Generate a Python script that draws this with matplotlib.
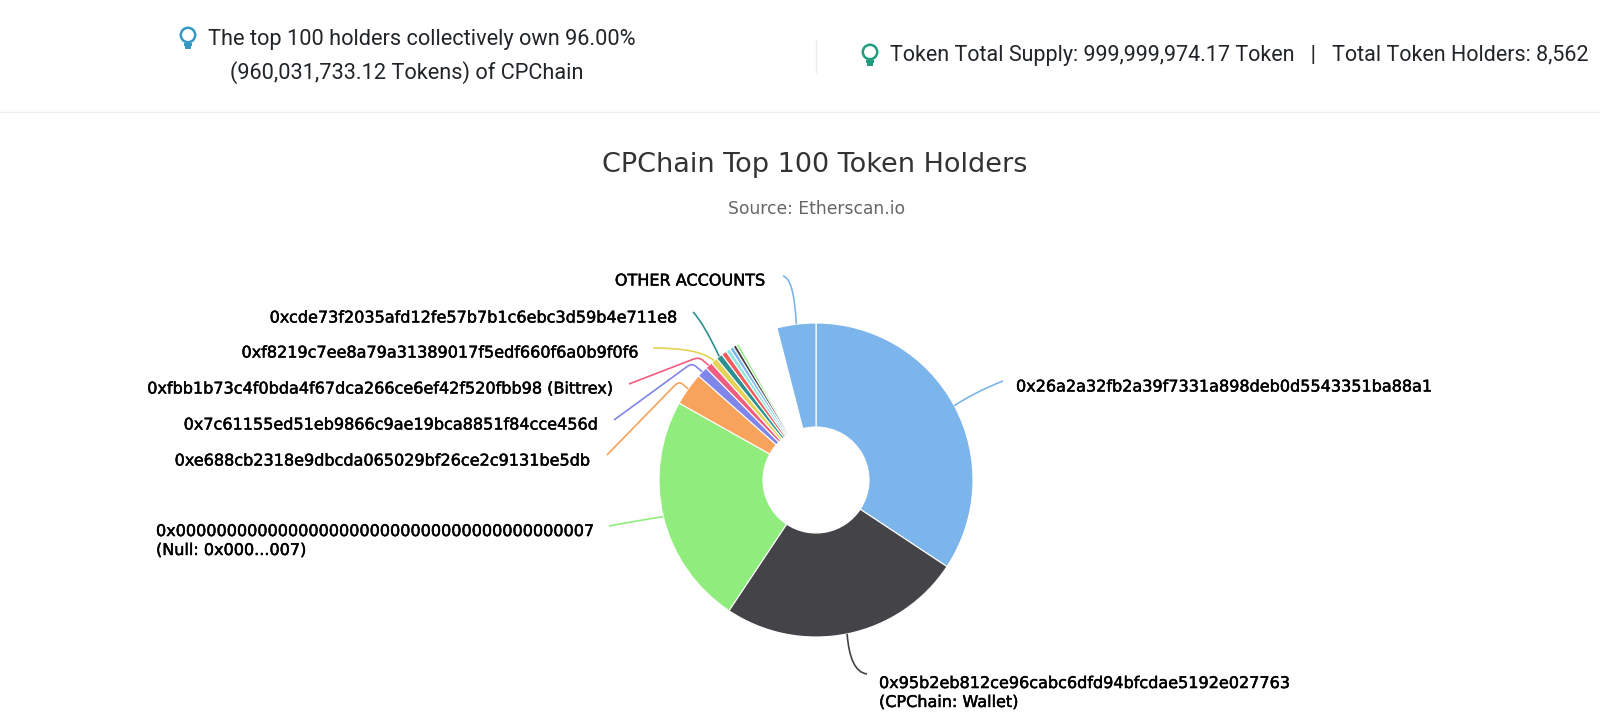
import matplotlib
matplotlib.use("Agg")
import numpy as np
import matplotlib.pyplot as plt
import matplotlib.patheffects as pe
from matplotlib.path import Path
from matplotlib.patches import PathPatch, Circle, Rectangle

TITLE = "CPChain Top 100 Token Holders"
SUBTITLE = "Source: Etherscan.io"
HEAD_LEFT_1 = "The top 100 holders collectively own 96.00%"
HEAD_LEFT_2 = "(960,031,733.12 Tokens) of CPChain"
HEAD_RIGHT = "Token Total Supply: 999,999,974.17 Token   |   Total Token Holders: 8,562"

holder_share = [34.3, 25.05, 23.8, 3.4, 1.1, 0.75, 0.7, 0.65, 0.55, 0.45, 0.4, 0.35, 0.3, 4.2, 4.0]
holder_colors = ["#7cb5ec", "#434348", "#90ed7d", "#f7a35c", "#8085e9", "#f15c80", "#e4d354",
                 "#2b908f", "#f45b5b", "#91e8e1", "#7cb5ec", "#434348", "#90ed7d", "#ffffff", "#7cb5ec"]
# index of slice, label text, text x, text y, ha, connector end, connector knee
holder_labels = [
    (0, "0x26a2a32fb2a39f7331a898deb0d5543351ba88a1", 1016, 386, "left", (1003, 381), (975, 392)),
    (1, "0x95b2eb812ce96cabc6dfd94bfcdae5192e027763\n(CPChain: Wallet)", 879, 692, "left", (867, 674), (850, 672)),
    (2, "0x00000000000000000000000000000000000000007\n(Null: 0x000...007)", 156, 540, "left", (609, 526), (635, 521)),
    (3, "0xe688cb2318e9dbcda065029bf26ce2c9131be5db", 589, 460, "right", (607, 455), (679, 381)),
    (4, "0x7c61155ed51eb9866c9ae19bca8851f84cce456d", 597, 424, "right", (614, 420), (692, 363)),
    (5, "0xfbb1b73c4f0bda4f67dca266ce6ef42f520fbb98 (Bittrex)", 612, 388, "right", (629, 384), (699, 357)),
    (6, "0xf8219c7ee8a79a31389017f5edf660f6a0b9f0f6", 637, 352, "right", (653, 348), (700, 348)),
    (7, "0xcde73f2035afd12fe57b7b1c6ebc3d59b4e711e8", 676, 317, "right", (693, 312), (703, 322)),
    (14, "OTHER ACCOUNTS", 765, 280, "right", (783, 276), (794, 278)),
]
crooked_connectors = [3, 4, 5]

CX, CY, R, R_IN = 816, 480, 157, 53

fig = plt.figure(figsize=(16, 7.26), dpi=100, facecolor="white")
ax = fig.add_axes([0, 0, 1, 1])

wedges, _ = ax.pie(holder_share, colors=holder_colors, center=(CX, CY), radius=R,
                   startangle=-90, counterclock=True, normalize=True,
                   wedgeprops=dict(width=R - R_IN, edgecolor="white", linewidth=0.8))
ax.set_xlim(0, 1600)
ax.set_ylim(726, 0)
ax.set_aspect("equal")
ax.axis("off")

label_font = ["DejaVu Sans"]
heavier = [pe.withStroke(linewidth=0.35, foreground="black")]


def toward(p, q, dist):
    p, q = np.array(p, float), np.array(q, float)
    return tuple(p + (q - p) * dist / np.hypot(*(q - p)))


for idx, text, tx, ty, ha, end, knee in holder_labels:
    w = wedges[idx]
    mid = np.deg2rad((w.theta1 + w.theta2) / 2)
    start = (CX + R * np.cos(mid), CY + R * np.sin(mid))
    if idx in crooked_connectors:
        a = toward(knee, start, 5)
        b = toward(knee, end, 6)
        path = Path([start, a, knee, b, end],
                    [Path.MOVETO, Path.LINETO, Path.CURVE3, Path.CURVE3, Path.LINETO])
    else:
        path = Path([start, knee, end], [Path.MOVETO, Path.CURVE3, Path.CURVE3])
    ax.add_patch(PathPatch(path, fill=False, edgecolor=holder_colors[idx], linewidth=1.2))
    t = ax.text(tx, ty + 1, text, ha=ha, va="center", fontsize=11.55, family=label_font,
                color="black", linespacing=1.33, multialignment="left")
    t.set_path_effects(heavier)

ax.text(CX - 1, 165, TITLE, ha="center", va="center", fontsize=19.5, color="#333333",
        family=label_font)
ax.text(CX, 209, SUBTITLE, ha="center", va="center", fontsize=12.3, color="#666666",
        family=label_font)

ink = "#212529"
ax.text(208, 39, HEAD_LEFT_1, ha="left", va="center", fontsize=15.65, color=ink, family="Roboto")
ax.text(407, 73, HEAD_LEFT_2, ha="center", va="center", fontsize=15.65, color=ink, family="Roboto")
ax.text(890, 56, HEAD_RIGHT, ha="left", va="center", fontsize=15.5, color=ink, family="Roboto")

ax.plot([0, 1600], [112, 112], color="#ececec", linewidth=1)
ax.plot([816, 816], [40, 72], color="#ececec", linewidth=1)


def bulb(x, y, color):
    ax.add_patch(Circle((x, y), 7.2, fill=False, edgecolor=color, linewidth=1.8))
    ax.add_patch(Rectangle((x - 4, y + 7.5), 8, 3, color=color, linewidth=0))
    ax.add_patch(Rectangle((x - 3, y + 11), 6, 2.6, color=color, linewidth=0))


bulb(188, 35, "#3498c4")
bulb(870, 52, "#1f9d7e")

fig.savefig("out.png", dpi=100, facecolor="white")
